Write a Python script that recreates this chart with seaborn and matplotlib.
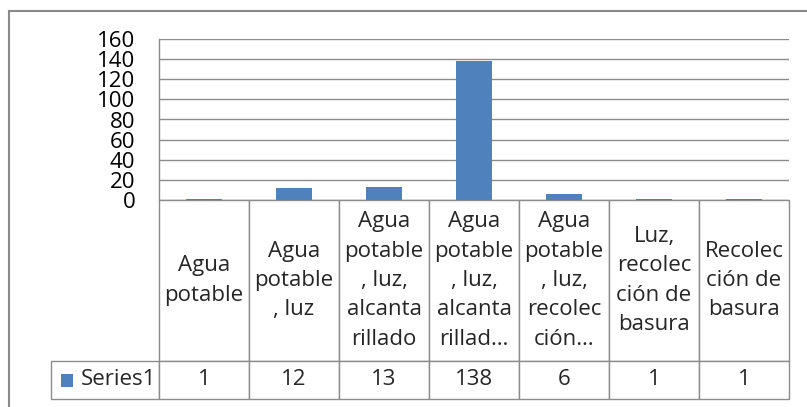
import matplotlib
matplotlib.use('Agg')
import matplotlib.pyplot as plt
import seaborn as sns
import pandas as pd
from matplotlib.patches import Rectangle

# --- Data ---
categories = ['Agua\npotable',
              'Agua\npotable\n, luz',
              'Agua\npotable\n, luz,\nalcanta\nrillado',
              'Agua\npotable\n, luz,\nalcanta\nrillad…',
              'Agua\npotable\n, luz,\nrecolec\nción…',
              'Luz,\nrecolec\nción de\nbasura',
              'Recolec\nción de\nbasura']
values = [1, 12, 13, 138, 6, 1, 1]
series_name = 'Series1'
y_ticks = [0, 20, 40, 60, 80, 100, 120, 140, 160]

BLUE = '#4F81BD'
GRID = '#8c8c8c'
FS = 16

sns.set_style('white')
plt.rcParams['font.family'] = ['Open Sans', 'DejaVu Sans']

W, H = 807, 407
AX_W, AX_H = 630, 161
fig = plt.figure(figsize=(W / 100, H / 100), dpi=100)

# outer chart frame (runs off the right and bottom edges)
fig.patches.append(Rectangle((9 / W, -0.02), 1.05, (H - 11) / H + 0.02,
                             transform=fig.transFigure, fill=False,
                             edgecolor='#8a8a8a', lw=1.5))

ax = fig.add_axes([159 / W, (H - 200) / H, AX_W / W, AX_H / H])

df = pd.DataFrame({'cat': categories, 'val': values})
sns.barplot(data=df, x='cat', y='val', color=BLUE, width=0.39,
            saturation=1, linewidth=0, ax=ax)

ax.set_ylim(0, 160)
ax.set_xlim(-0.5, len(categories) - 0.5)
ax.set_yticks(y_ticks)
ax.yaxis.grid(True, color=GRID, lw=1.0)
ax.set_axisbelow(True)
ax.tick_params(axis='y', length=0, pad=17, labelsize=FS, colors='black')
ax.set_xticks([])
ax.set_xlabel('')
ax.set_ylabel('')
for s in ['top', 'right', 'bottom']:
    ax.spines[s].set_visible(False)
ax.spines['left'].set_color(GRID)
ax.spines['left'].set_linewidth(1.0)

# data table under the chart; sizes in axes fractions so the bbox needs no rescale
head_h, row_h = 161 / AX_H, 38 / AX_H
tbl = ax.table(cellText=[[str(v) for v in values]], colLabels=categories,
               cellLoc='center', colLoc='center',
               bbox=[0, -(head_h + row_h), 1, head_h + row_h])
# row label cell with a fixed width (no auto sizing)
lab = tbl.add_cell(1, -1, width=108 / AX_W, height=row_h,
                   text=series_name, loc='left')
lab.PAD = 30 / 108
tbl.auto_set_font_size(False)
tbl.set_fontsize(FS)
for (r, c), cell in tbl.get_celld().items():
    cell.set_edgecolor(GRID)
    cell.set_linewidth(1.0)
    cell.set_width((108 if c == -1 else 90) / AX_W)
    cell.set_height(head_h if r == 0 else row_h)
    cell.get_text().set_linespacing(1.52)

# legend key inside the row label cell
ax.add_patch(Rectangle((-98 / AX_W, -187 / AX_H), 12 / AX_W, 13 / AX_H,
                       transform=ax.transAxes, clip_on=False,
                       facecolor=BLUE, edgecolor='none'))

fig.savefig('out.png', dpi=100)
